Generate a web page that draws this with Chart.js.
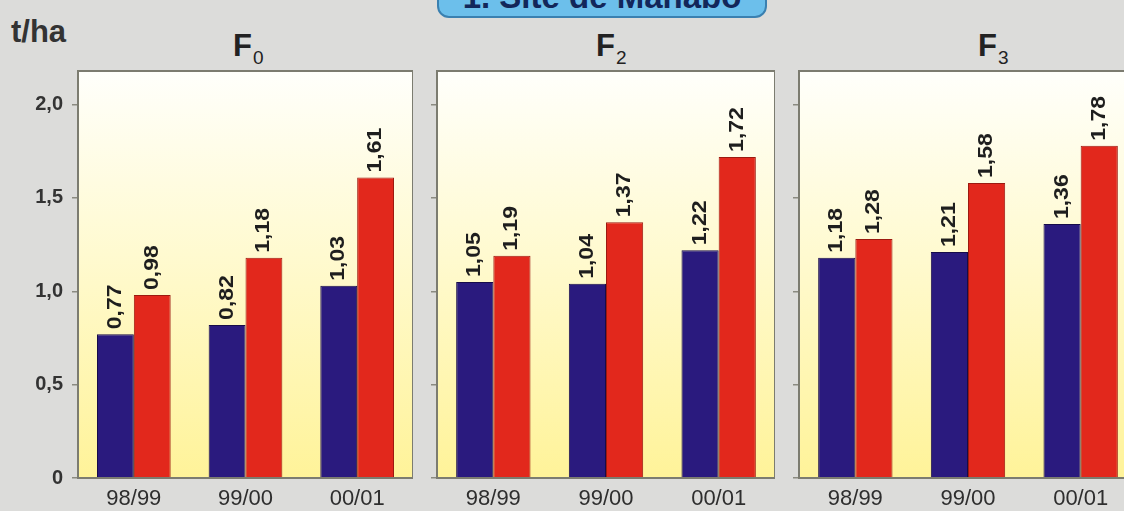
<!DOCTYPE html>
<html>
<head>
<meta charset="utf-8">
<script src="https://cdn.jsdelivr.net/npm/chart.js@4.4.1/dist/chart.umd.min.js"></script>
<style>
  body { margin: 0; width: 1124px; height: 511px; overflow: hidden; position: relative;
         background: #dcdcda; font-family: "Liberation Sans", Arial, sans-serif; }
  canvas { position: absolute; top: 0; }
  .box { position: absolute; left: 437px; top: -16px; width: 330px; height: 34px; box-sizing: border-box;
         background: #6cbfeb; border: 2px solid #3a80b0; border-radius: 12px; }
  .boxText { position: absolute; left: 437px; width: 330px; top: -19px; line-height: 32px; text-align: center;
             font-size: 33px; font-weight: bold; color: #12275a; white-space: nowrap; }
  .unit { position: absolute; left: 11px; top: 14px; font-size: 31px; font-weight: bold; color: #333; line-height: 36px; }
  .ptitle { position: absolute; top: 29px; font-size: 31px; font-weight: bold; color: #222; line-height: 34px; white-space: nowrap; }
  .ptitle sub { font-size: 19px; font-weight: normal; vertical-align: -8px; margin-left: 1px; }
</style>
</head>
<body>
<div class="box"></div>
<div class="boxText">1. Site de Mahabo</div>
<div class="unit">t/ha</div>
<div class="ptitle" style="left:233px">F<sub>0</sub></div>
<div class="ptitle" style="left:596px">F<sub>2</sub></div>
<div class="ptitle" style="left:978px">F<sub>3</sub></div>
<canvas id="c0" width="413" height="511" style="left:0px"></canvas>
<canvas id="c2" width="350" height="511" style="left:425px"></canvas>
<canvas id="c3" width="350" height="511" style="left:787px"></canvas>
<script>
const seasons = ["98/99", "99/00", "00/01"];
const yTicks = [0, 0.5, 1.0, 1.5, 2.0];
const yMax = 2.18;

const f0Blue = [0.77, 0.82, 1.03];
const f0Red = [0.98, 1.18, 1.61];
const f2Blue = [1.05, 1.04, 1.22];
const f2Red = [1.19, 1.37, 1.72];
const f3Blue = [1.18, 1.21, 1.36];
const f3Red = [1.28, 1.58, 1.78];

const comma = (v, d) => v === 0 ? "0" : v.toFixed(d).replace(".", ",");

// yellow panel background, frame and vertical value labels
const panelPlugin = {
    id: "panelPlugin",
    beforeDraw(chart) {
        const { ctx, chartArea: a } = chart;
        const g = ctx.createLinearGradient(0, a.top, 0, a.bottom);
        g.addColorStop(0, "#fffffb");
        g.addColorStop(0.45, "#fffad0");
        g.addColorStop(1, "#fff399");
        ctx.save();
        ctx.fillStyle = g;
        ctx.fillRect(a.left, a.top, a.right - a.left, a.bottom - a.top);
        ctx.restore();
    },
    afterDatasetsDraw(chart) {
        const { ctx, chartArea: a } = chart;
        ctx.save();
        ctx.strokeStyle = "#7c7c70";
        ctx.lineWidth = 2;
        ctx.strokeRect(a.left, a.top, a.right - a.left, a.bottom - a.top);

        ctx.fillStyle = "#1e1e1e";
        ctx.font = "bold 20px 'Liberation Sans', Arial, sans-serif";
        ctx.textAlign = "left";
        ctx.textBaseline = "middle";
        chart.data.datasets.forEach((ds, i) => {
            chart.getDatasetMeta(i).data.forEach((el, j) => {
                ctx.save();
                ctx.translate(el.x, el.y - 5);
                ctx.rotate(-Math.PI / 2);
                ctx.scale(1.15, 1);
                ctx.fillText(comma(ds.data[j], 2), 0, 0);
                ctx.restore();
            });
        });
        ctx.restore();
    }
};

function makePanel(id, blue, red, axisWidth, showLabels) {
    new Chart(document.getElementById(id), {
        type: "bar",
        data: {
            labels: seasons,
            datasets: [
                { data: blue, backgroundColor: "#2a1a7e", borderColor: "#170c4a", borderWidth: 1 },
                { data: red, backgroundColor: "#e2281c", borderColor: "#9c1a10", borderWidth: 1 }
            ]
        },
        options: {
            responsive: false,
            animation: false,
            layout: { padding: { top: 71, right: 0, left: 0, bottom: 0 } },
            datasets: { bar: { categoryPercentage: 0.66, barPercentage: 1.0 } },
            plugins: { legend: { display: false }, tooltip: { enabled: false } },
            scales: {
                x: {
                    grid: { display: false },
                    border: { display: false },
                    ticks: { color: "#2e2e2e", padding: 0, font: { size: 22, family: "'Liberation Sans', Arial, sans-serif" } },
                    afterFit: s => { s.height = 33; }
                },
                y: {
                    min: 0,
                    max: yMax,
                    afterBuildTicks: s => { s.ticks = yTicks.map(v => ({ value: v })); },
                    grid: { drawOnChartArea: false, drawTicks: true, tickLength: 6, color: "#8a8a80", lineWidth: 1.5 },
                    border: { display: false },
                    ticks: {
                        color: showLabels ? "#333" : "rgba(0,0,0,0)",
                        padding: 9,
                        font: { size: 20, weight: "bold", family: "'Liberation Sans', Arial, sans-serif" },
                        callback: v => comma(v, 1)
                    },
                    afterFit: s => { s.width = axisWidth; }
                }
            }
        },
        plugins: [panelPlugin]
    });
}

makePanel("c0", f0Blue, f0Red, 78, true);
makePanel("c2", f2Blue, f2Red, 12, false);
makePanel("c3", f3Blue, f3Red, 12, false);
</script>
</body>
</html>
